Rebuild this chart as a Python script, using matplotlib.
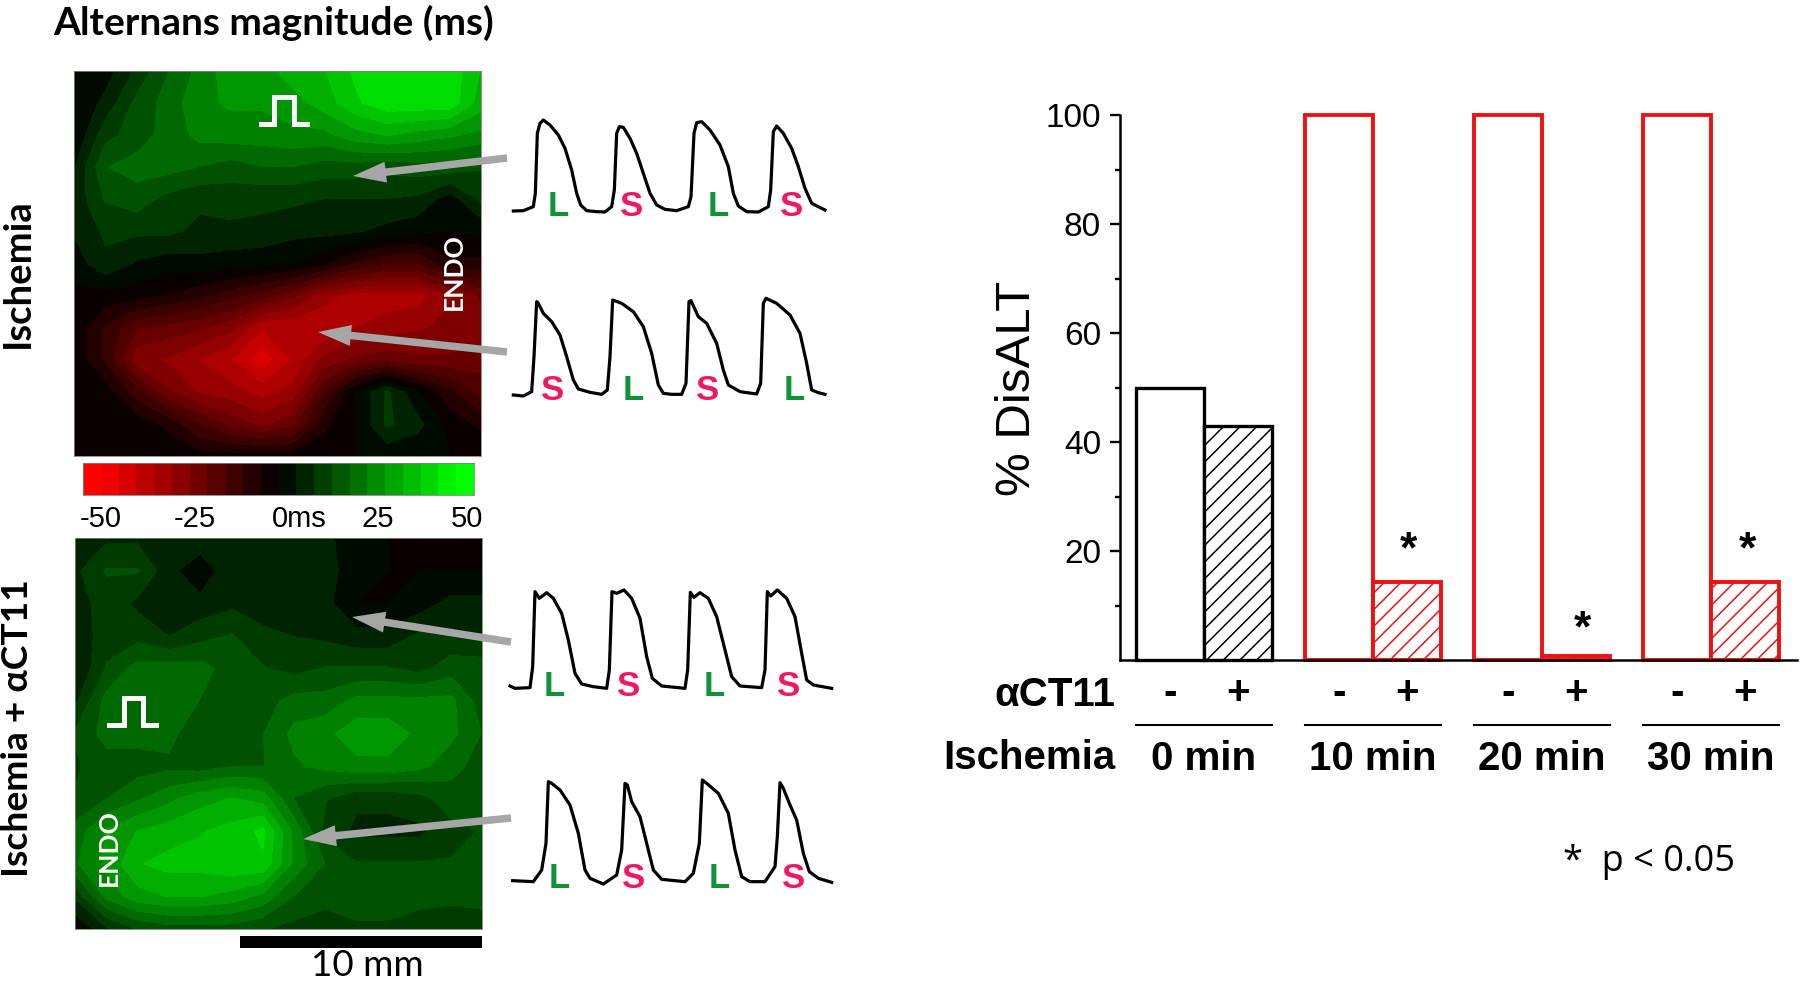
#!/usr/bin/env python3
import matplotlib
matplotlib.use("Agg")
import matplotlib.pyplot as plt
import numpy as np
from matplotlib.colors import LinearSegmentedColormap

W, H = 1800, 985

# alternans maps, ms on a coarse grid
map_ischemia = [
    [0, 2, 10, 18, 24, 30, 30, 34, 36, 42, 44, 44, 44, 36],
    [0, 6, 15, 20, 26, 28, 28, 30, 34, 40, 44, 44, 44, 34],
    [0, 12, 16, 20, 24, 25, 25, 26, 26, 30, 32, 30, 28, 26],
    [4, 18, 20, 20, 18, 16, 18, 18, 16, 16, 15, 16, 16, 14],
    [6, 14, 16, 12, 10, 11, 10, 10, 9, 9, 9, 8, 2, 10],
    [5, 10, 10, 10, 8, 8, 8, 6, 6, 5, 3, 1, 0, 1],
    [2, 8, 4, 2, 3, 2, 1, 0, -4, -10, -14, -14, -6, -6],
    [-1, -2, -3, -5, -8, -12, -16, -22, -30, -34, -34, -34, -28, -22],
    [-1, -10, -18, -20, -22, -26, -36, -36, -36, -32, -30, -28, -26, -26],
    [-1, -10, -26, -28, -32, -36, -44, -36, -26, -22, -20, -22, -22, -20],
    [0, -2, -12, -22, -28, -30, -34, -30, -14, 0, 10, 0, -8, -16],
    [0, 0, -2, -6, -14, -20, -24, -20, -6, 0, 10, 6, -2, -6],
    [0, 0, 0, -1, -3, -3, -3, -3, -1, 0, 1, 1, 0, 0],
]
map_act11 = [
    [8, 8, 8, 5, 8, 8, 8, 8, 6, 1, 0, 0, 0, 0],
    [8, 14, 14, 6, 1, 8, 8, 8, 7, 1, 0, 0, 0, 0],
    [6, 12, 8, 8, 6, 8, 7, 7, 6, 0, 0, 2, 6, 6],
    [5, 12, 12, 9, 12, 14, 10, 9, 8, 6, 6, 10, 10, 9],
    [4, 14, 20, 20, 20, 16, 14, 12, 14, 14, 14, 12, 16, 16],
    [8, 20, 22, 22, 18, 14, 16, 20, 20, 24, 24, 24, 24, 16],
    [14, 20, 20, 20, 14, 16, 18, 24, 26, 30, 30, 26, 24, 18],
    [13, 16, 16, 17, 16, 18, 18, 22, 24, 26, 26, 24, 20, 16],
    [14, 18, 22, 26, 30, 32, 30, 18, 14, 10, 10, 12, 16, 16],
    [20, 28, 32, 34, 36, 38, 42, 26, 12, 8, 8, 8, 12, 14],
    [22, 28, 36, 38, 38, 40, 40, 26, 18, 14, 14, 14, 14, 14],
    [10, 24, 30, 32, 32, 30, 26, 18, 16, 18, 18, 16, 15, 16],
    [0, 8, 14, 16, 16, 16, 14, 12, 10, 12, 12, 10, 10, 10],
]
cbar_labels = ["-50", "-25", "0ms", "25", "50"]

# optical action potentials, traced
trace1_x = [70, 100, 130, 136, 142, 150, 160, 180, 205, 225, 245, 260, 272, 290, 320, 345, 365, 373, 380, 388, 400, 420, 440, 460, 480, 500, 525, 560, 595, 603, 612, 620, 635, 660, 690, 715, 730, 745, 770, 805, 835, 842, 850, 860, 880, 905, 925, 945, 965, 985, 1005]
trace1_y = [363, 362, 350, 310, 130, 100, 90, 105, 135, 175, 240, 310, 345, 362, 365, 366, 350, 300, 130, 110, 112, 145, 190, 250, 310, 345, 358, 362, 350, 320, 130, 98, 95, 120, 165, 230, 310, 348, 365, 366, 350, 300, 125, 108, 130, 175, 230, 295, 340, 350, 360]
trace2_x = [70, 100, 125, 132, 140, 145, 160, 185, 210, 230, 250, 265, 300, 335, 352, 360, 368, 395, 430, 460, 485, 505, 520, 545, 575, 588, 597, 603, 625, 650, 680, 700, 715, 750, 800, 812, 820, 828, 860, 900, 930, 950, 965, 985, 1005]
trace2_y = [915, 918, 905, 800, 635, 640, 670, 695, 735, 800, 870, 897, 907, 913, 900, 800, 630, 640, 665, 710, 790, 885, 910, 913, 913, 880, 635, 632, 680, 700, 760, 840, 885, 905, 912, 880, 640, 625, 640, 675, 730, 820, 900, 908, 913]
trace3_x = [60, 75, 120, 128, 135, 148, 170, 190, 215, 235, 255, 275, 310, 350, 358, 366, 380, 402, 425, 450, 470, 487, 515, 585, 593, 601, 612, 630, 655, 680, 705, 725, 750, 815, 825, 832, 842, 862, 890, 915, 935, 950, 970, 1025]
trace3_y = [378, 385, 383, 320, 95, 115, 98, 115, 160, 240, 340, 372, 380, 385, 330, 95, 100, 90, 115, 175, 290, 355, 378, 385, 330, 97, 112, 98, 115, 170, 270, 350, 378, 383, 330, 95, 108, 90, 115, 170, 280, 360, 375, 385]
trace4_x = [68, 130, 155, 168, 175, 185, 210, 240, 265, 285, 300, 340, 380, 395, 405, 412, 425, 450, 470, 490, 515, 585, 610, 628, 637, 650, 685, 715, 735, 755, 780, 825, 855, 862, 870, 880, 900, 920, 940, 958, 985, 1025]
trace4_y = [962, 965, 930, 850, 665, 670, 690, 735, 820, 930, 955, 972, 945, 870, 670, 675, 725, 770, 850, 930, 958, 965, 940, 850, 660, 670, 700, 760, 870, 950, 965, 965, 920, 830, 668, 685, 735, 780, 880, 935, 955, 967]

# % DisALT bars
time_groups = ["0 min", "10 min", "20 min", "30 min"]
control_values = [50, 100, 100, 100]
act11_values = [43, 14.3, 0.8, 14.3]
star_heights = [None, 20, 5.5, 20]
star_shift = [0, 1.52, 1.6, 1.53]
group_colors = ["black", "#f01010", "#f01010", "#f01010"]
y_ticks = [20, 40, 60, 80, 100]
y_minor = [10, 30, 50, 70, 90]


def px_axes(x0, y0, x1, y1):
    # axes placed by reference pixel box
    return fig.add_axes([x0 / W, 1 - y1 / H, (x1 - x0) / W, (y1 - y0) / H])


plt.rcParams["font.family"] = ["Liberation Sans", "DejaVu Sans"]
plt.rcParams["hatch.linewidth"] = 1.1
fig = plt.figure(figsize=(18, 9.85), dpi=100)

cmap = LinearSegmentedColormap.from_list("rg", ["#ff0000", "#000000", "#00ff00"])
levels = np.linspace(-50, 50, 23)

for grid, box in [(map_ischemia, (74, 71, 481, 456)), (map_act11, (75, 538, 482, 929))]:
    ax = px_axes(*box)
    ax.contourf(np.array(grid), levels=levels, cmap=cmap, vmin=-50, vmax=50, extend="both")
    ax.invert_yaxis()
    ax.set_xticks([])
    ax.set_yticks([])
    for spine in ax.spines.values():
        spine.set_color("#808080")
        spine.set_linewidth(0.6)

cax = px_axes(83, 463, 474, 495)
centers = (levels[:-1] + levels[1:]) / 2
cax.pcolormesh(levels, [0, 1], centers[np.newaxis, :], cmap=cmap, vmin=-46, vmax=46)
cax.set_xticks([])
cax.set_yticks([])
for spine in cax.spines.values():
    spine.set_color("#808080")
    spine.set_linewidth(0.6)

tax = px_axes(490, 90, 850, 430)
tax.plot(trace1_x, trace1_y, color="black", lw=2.3)
tax.plot(trace2_x, trace2_y, color="black", lw=2.3)
tax.set_xlim(0, 1080)
tax.set_ylim(1020, 0)
tax.axis("off")
tax = px_axes(490, 560, 850, 900)
tax.plot(trace3_x, trace3_y, color="black", lw=2.3)
tax.plot(trace4_x, trace4_y, color="black", lw=2.3)
tax.set_xlim(0, 1080)
tax.set_ylim(1020, 0)
tax.axis("off")

# bar chart
ax = px_axes(1120, 115, 1797, 660)
step = 169 / 68
for i in range(4):
    left = 0.235 + i * step
    lw = 2.4 if i == 0 else 2.8
    ax.bar(left, control_values[i], width=1, align="edge", facecolor="white",
           edgecolor=group_colors[i], linewidth=lw, clip_on=False, zorder=3)
    ax.bar(left + 1, act11_values[i], width=1, align="edge", facecolor="white",
           edgecolor=group_colors[i], linewidth=lw, hatch="//", clip_on=False, zorder=3)
    if star_heights[i] is not None:
        ax.text(left + star_shift[i], star_heights[i], "*", ha="center", va="center",
                fontsize=32, fontweight="bold")
    ax.text(left + 0.5, -6, "-", ha="center", va="center", fontsize=29, fontweight="bold")
    ax.text(left + 1.5, -6, "+", ha="center", va="center", fontsize=29, fontweight="bold")
    ax.plot([left, left + 2], [-11.9, -11.9], color="black", lw=1.5, clip_on=False)
    ax.text(left + 1, -18.1, time_groups[i], ha="center", va="center", fontsize=29, fontweight="bold")
ax.set_xlim(0, 677 / 68)
ax.set_ylim(0, 100)
ax.set_xticks([])
ax.set_yticks(y_ticks)
ax.set_yticks(y_minor, minor=True)
ax.tick_params(axis="y", which="major", length=7.2, width=1.7, labelsize=24, pad=6.5)
ax.tick_params(axis="y", which="minor", length=3.6, width=1.7)
ax.spines["top"].set_visible(False)
ax.spines["right"].set_visible(False)
ax.spines["left"].set_linewidth(1.8)
ax.spines["bottom"].set_linewidth(1.8)
ax.spines["bottom"].set_zorder(5)

# everything else is placed on a full figure overlay in reference pixels
ov = fig.add_axes([0, 0, 1, 1], zorder=10)
ov.set_xlim(0, W)
ov.set_ylim(H, 0)
ov.axis("off")
ov.patch.set_alpha(0)

calibri = ["Lato", "DejaVu Sans"]
ov.text(53, 23, "Alternans magnitude (ms)", family=calibri, fontweight="bold", fontsize=28, va="center")
ov.text(18, 273, "Ischemia", family=calibri, fontweight="bold", fontsize=27.5, rotation=90, ha="center", va="center")
ov.text(18, 728, "Ischemia + αCT11", family=calibri, fontweight="bold", fontsize=26.8, rotation=90, ha="center", va="center")
ov.text(454, 272, "ENDO", family=calibri, fontweight="bold", fontsize=19, color="white", rotation=90, ha="center", va="center")
ov.text(109, 848, "ENDO", family=calibri, fontweight="bold", fontsize=19, color="white", rotation=90, ha="center", va="center")
ov.text(367, 965, "10 mm", family=calibri, fontsize=26.5, ha="center", va="center")
ov.text(1563, 862, "*  p < 0.05", family=["Open Sans", "DejaVu Sans"], fontsize=26, va="center")
ov.text(1115, 695, "αCT11", fontweight="bold", fontsize=29, ha="right", va="center")
ov.text(1115, 758, "Ischemia", fontweight="bold", fontsize=29, ha="right", va="center")
ov.text(1017, 388, "% DisALT", fontsize=35.5, rotation=90, ha="center", va="center")

for label, xc in zip(cbar_labels, [101, 195, 299, 378, 467]):
    ov.text(xc, 519, label, fontsize=21, ha="center", va="center")

ov.fill_between([240, 482], 936, 948, color="black", lw=0)

for tail, tip in [((507, 158), (353, 176)), ((507, 352), (318, 332)),
                  ((511, 642), (352, 617)), ((511, 818), (303, 839))]:
    ov.arrow(tail[0], tail[1], tip[0] - tail[0], tip[1] - tail[1], width=7.5, head_width=21,
             head_length=33, length_includes_head=True, color="#a6a6a6", lw=0)

pulse_x = [261, 274, 274, 294, 294, 307]
pulse_y = [124, 124, 97, 97, 124, 124]
ov.plot(pulse_x, pulse_y, color="white", lw=3.6, solid_joinstyle="miter")
pulse2_x = [109, 124, 124, 143, 143, 156]
pulse2_y = [725, 725, 698, 698, 725, 725]
ov.plot(pulse2_x, pulse2_y, color="white", lw=3.6, solid_joinstyle="miter")

green, pink = "#0f9338", "#f0185f"
marks = [
    ("L", 558, 206, green), ("S", 632, 206, pink), ("L", 718, 206, green), ("S", 792, 206, pink),
    ("S", 553, 391, pink), ("L", 633, 391, green), ("S", 708, 391, pink), ("L", 794, 391, green),
    ("L", 554, 687, green), ("S", 629, 687, pink), ("L", 714, 687, green), ("S", 789, 687, pink),
    ("L", 559, 878, green), ("S", 634, 878, pink), ("L", 719, 878, green), ("S", 794, 878, pink),
]
for letter, x, y, color in marks:
    ov.text(x, y, letter, color=color, fontweight="bold", fontsize=25, ha="center", va="center")

fig.savefig("out.png", dpi=100)
